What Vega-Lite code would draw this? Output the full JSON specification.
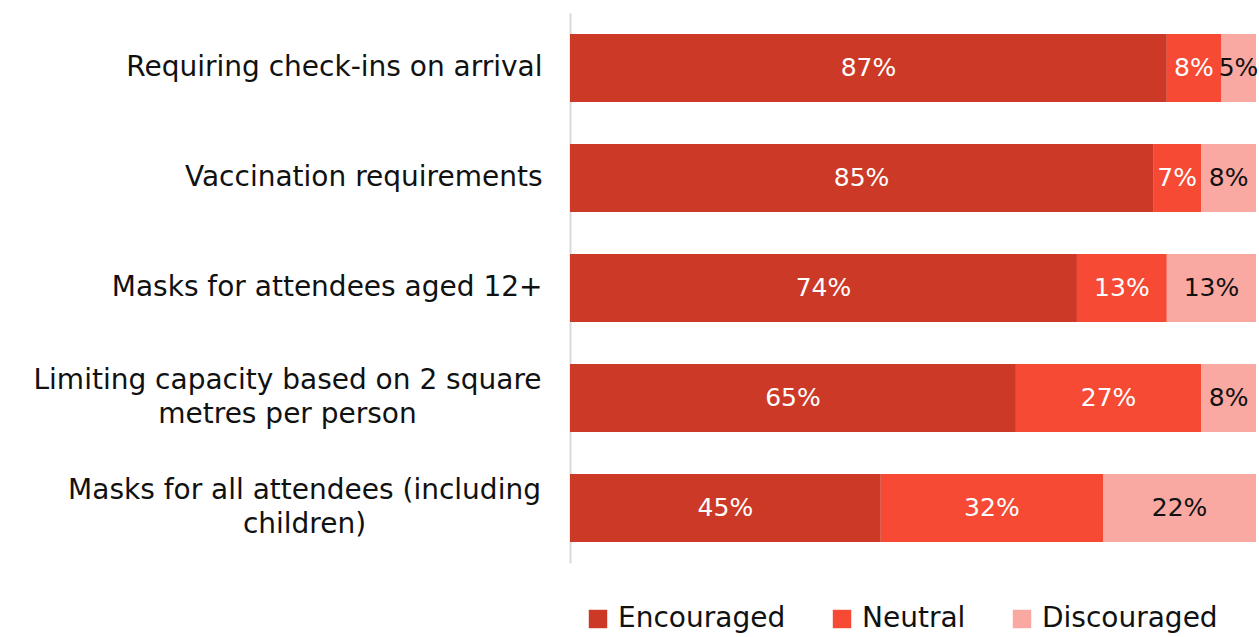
{
  "$schema": "https://vega.github.io/schema/vega-lite/v6.json",
  "width": 686,
  "height": 550,
  "autosize": {"type": "none"},
  "padding": {"left": 570, "top": 13, "right": 3, "bottom": 74},
  "background": "white",
  "config": {"view": {"stroke": null}, "font": "DejaVu Sans"},
  "data": {
    "values": [
      {"item": "Requiring check-ins on arrival", "response": "Encouraged", "k": 1, "share": 0.870},
      {"item": "Requiring check-ins on arrival", "response": "Neutral", "k": 2, "share": 0.079},
      {"item": "Requiring check-ins on arrival", "response": "Discouraged", "k": 3, "share": 0.051},
      {"item": "Vaccination requirements", "response": "Encouraged", "k": 1, "share": 0.850},
      {"item": "Vaccination requirements", "response": "Neutral", "k": 2, "share": 0.070},
      {"item": "Vaccination requirements", "response": "Discouraged", "k": 3, "share": 0.080},
      {"item": "Masks for attendees aged 12+", "response": "Encouraged", "k": 1, "share": 0.739},
      {"item": "Masks for attendees aged 12+", "response": "Neutral", "k": 2, "share": 0.131},
      {"item": "Masks for attendees aged 12+", "response": "Discouraged", "k": 3, "share": 0.130},
      {"item": "Limiting capacity based on 2 square metres per person", "response": "Encouraged", "k": 1, "share": 0.650},
      {"item": "Limiting capacity based on 2 square metres per person", "response": "Neutral", "k": 2, "share": 0.270},
      {"item": "Limiting capacity based on 2 square metres per person", "response": "Discouraged", "k": 3, "share": 0.080},
      {"item": "Masks for all attendees (including children)", "response": "Encouraged", "k": 1, "share": 0.453},
      {"item": "Masks for all attendees (including children)", "response": "Neutral", "k": 2, "share": 0.324},
      {"item": "Masks for all attendees (including children)", "response": "Discouraged", "k": 3, "share": 0.223}
    ]
  },
  "transform": [
    {"stack": "share", "groupby": ["item"], "sort": [{"field": "k", "order": "ascending"}], "as": ["s0", "s1"]},
    {"calculate": "(datum.s0 + datum.s1) / 2", "as": "mid"}
  ],
  "encoding": {
    "y": {
      "field": "item",
      "type": "nominal",
      "sort": null,
      "scale": {"paddingInner": 0.38, "paddingOuter": 0.19},
      "axis": {
        "title": null,
        "ticks": false,
        "domainColor": "#D9D9D9",
        "domainWidth": 2,
        "labelFontSize": 28,
        "labelColor": "#111111",
        "labelLimit": 700,
        "labelLineHeight": 34,
        "labelAlign": {"condition": {"test": "indexof(datum.value, 'Limiting') == 0 || indexof(datum.value, 'including') > 0", "value": "center"}, "value": "right"},
        "labelPadding": {"condition": [
          {"test": "indexof(datum.value, 'Limiting') == 0", "value": 283},
          {"test": "indexof(datum.value, 'including') > 0", "value": 266}
        ], "value": 28},
        "labelOffset": {"condition": {"test": "indexof(datum.value, 'Limiting') == 0 || indexof(datum.value, 'including') > 0", "value": -17}, "value": 0},
        "labelExpr": "datum.label == 'Limiting capacity based on 2 square metres per person' ? ['Limiting capacity based on 2 square', 'metres per person'] : datum.label == 'Masks for all attendees (including children)' ? ['Masks for all attendees (including', 'children)'] : datum.label"
      }
    }
  },
  "layer": [
    {
      "mark": {"type": "bar"},
      "encoding": {
        "x": {"field": "s0", "type": "quantitative", "scale": {"domain": [0, 1]}, "axis": null},
        "x2": {"field": "s1"},
        "color": {
          "field": "response",
          "type": "nominal",
          "scale": {"domain": ["Encouraged", "Neutral", "Discouraged"], "range": ["#CC3A27", "#F64A35", "#F9A8A2"]},
          "legend": {
            "title": null,
            "orient": "none",
            "legendX": 14,
            "legendY": 592,
            "direction": "horizontal",
            "symbolType": "square",
            "symbolSize": 340,
            "symbolStrokeWidth": 0,
            "labelFontSize": 28,
            "labelColor": "#111111",
            "labelLimit": 300,
            "columnPadding": 42,
            "labelOffset": 6
          }
        }
      }
    },
    {
      "mark": {"type": "text", "fontSize": 25, "align": "center", "baseline": "middle"},
      "encoding": {
        "x": {"field": "mid", "type": "quantitative"},
        "text": {"field": "share", "type": "quantitative", "format": ".0%"},
        "color": {
          "condition": {"test": "datum.response == 'Discouraged'", "value": "#111111"},
          "value": "white"
        }
      }
    }
  ]
}
